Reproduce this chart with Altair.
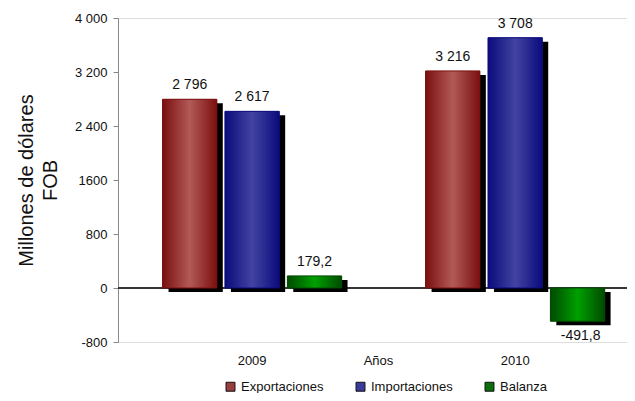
import altair as alt
import pandas as pd

years = ["2009", "2010"]
series = ["Exportaciones", "Importaciones", "Balanza"]
exportaciones = [2796, 3216]
importaciones = [2617, 3708]
balanza = [179.2, -491.8]
value_labels = {
    "Exportaciones": ["2 796", "3 216"],
    "Importaciones": ["2 617", "3 708"],
    "Balanza": ["179,2", "-491,8"],
}
y_ticks = [-800, 0, 800, 1600, 2400, 3200, 4000]
y_tick_labels = ["-800", "0", "800", "1600", "2 400", "3 200", "4 000"]

edge_colors = ["#7a0f0f", "#0b0b7c", "#004a00"]
center_colors = ["#b25a58", "#4343a2", "#00a000"]
legend_colors = ["#9a3d3d", "#3b3b9c", "#0a6e0a"]

rows = []
for s, vals in zip(series, [exportaciones, importaciones, balanza]):
    for y, v, lab in zip(years, vals, value_labels[s]):
        rows.append({"anio": y, "serie": s, "valor": v, "etiqueta": lab})
df = pd.DataFrame(rows)

label_expr = " : ".join(
    f"datum.value == {v} ? '{t}'" for v, t in zip(y_ticks, y_tick_labels)
) + " : datum.label"

x_enc = alt.X(
    "anio:N",
    sort=years,
    scale=alt.Scale(paddingInner=0.3, paddingOuter=0.1175, align=0.68),
    axis=alt.Axis(
        title="Años",
        labelAngle=0,
        domain=False,
        ticks=False,
        labelPadding=12,
        labelFontSize=13,
        labelFont="Liberation Sans",
        labelColor="#111",
        titleFont="Liberation Sans",
        titleFontSize=13,
        titleFontWeight="normal",
        titleColor="#111",
        titleX=260,
        titleY=12,
        titleBaseline="top",
    ),
)


def xoff(rng=None):
    if rng is None:
        sc = alt.Scale(domain=series, paddingInner=0.13, paddingOuter=0.04)
    else:
        sc = alt.Scale(domain=series, paddingInner=0.13, paddingOuter=0.04, range=rng)
    return alt.XOffset("serie:N", sort=series, scale=sc)


y_enc = alt.Y(
    "valor:Q",
    scale=alt.Scale(domain=[-800, 4000], nice=False),
    axis=alt.Axis(
        title=["Millones  de  dólares", "FOB"],
        values=y_ticks,
        labelExpr=label_expr,
        grid=False,
        domainColor="#888",
        tickColor="#888",
        tickSize=5,
        labelPadding=6,
        labelFontSize=13,
        labelFont="Liberation Sans",
        labelColor="#111",
        titleFont="Liberation Sans",
        titleFontSize=20,
        titleFontWeight="normal",
        titleColor="#111",
        titlePadding=14,
        titleLineHeight=24,
    ),
)

base = alt.Chart(df)

zero = base.mark_rule(color="#333", strokeWidth=1).encode(y=alt.datum(0))

shadow = base.mark_bar(color="black", yOffset=4, y2Offset=4).encode(
    x=x_enc, xOffset=xoff([6, 190]), y=y_enc
)

legend_bars = base.mark_bar().encode(
    x=x_enc,
    xOffset=xoff(),
    y=y_enc,
    color=alt.Color(
        "serie:N",
        sort=series,
        scale=alt.Scale(domain=series, range=legend_colors),
        legend=alt.Legend(
            title=None,
            orient="none",
            direction="horizontal",
            legendX=106,
            legendY=362,
            symbolType="square",
            symbolSize=80,
            symbolStrokeColor="#111",
            symbolStrokeWidth=1,
            symbolOpacity=1,
            labelFont="Liberation Sans",
            labelFontSize=13,
            labelColor="#111",
            columnPadding=30,
            labelOffset=4,
        ),
    ),
)

grad_layers = []
for s, ec, cc in zip(series, edge_colors, center_colors):
    grad = alt.LinearGradient(
        gradient="linear",
        stops=[
            alt.GradientStop(color=ec, offset=0),
            alt.GradientStop(color=cc, offset=0.5),
            alt.GradientStop(color=ec, offset=1),
        ],
        x1=0, x2=1, y1=0, y2=0,
    )
    grad_layers.append(
        base.transform_filter(alt.datum.serie == s)
        .mark_bar(color=grad, stroke=ec, strokeWidth=1)
        .encode(x=x_enc, xOffset=xoff(), y=y_enc)
    )

text_pos = base.transform_filter(alt.datum.valor >= 0).mark_text(
    baseline="bottom", dy=-7, fontSize=14, font="Liberation Sans", color="#111"
).encode(x=x_enc, xOffset=xoff(), y=y_enc, text="etiqueta:N")

text_neg = base.transform_filter(alt.datum.valor < 0).mark_text(
    baseline="top", dy=8, dx=3, fontSize=14, font="Liberation Sans", color="#111"
).encode(x=x_enc, xOffset=xoff(), y=y_enc, text="etiqueta:N")

front = alt.layer(legend_bars, *grad_layers, text_pos, text_neg)

chart = alt.layer(
    zero, shadow, front
).resolve_scale(xOffset="independent").properties(
    width=509,
    height=324,
    autosize=alt.AutoSizeParams(type="none"),
    padding={"left": 110, "top": 10, "right": 0, "bottom": 51},
).configure_view(stroke=None).configure(background="white")

chart.save("out.html", embed_options={"renderer": "svg", "actions": False})
